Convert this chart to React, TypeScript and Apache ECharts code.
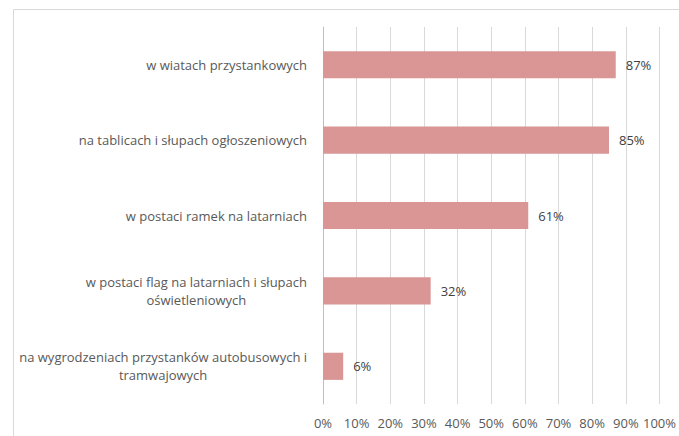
import React, { useEffect, useRef } from "react";
import * as echarts from "echarts";

const categories: string[] = [
  "w wiatach przystankowych",
  "na tablicach i słupach ogłoszeniowych",
  "w postaci ramek na latarniach",
  "w postaci flag na latarniach i słupach\noświetleniowych",
  "na wygrodzeniach przystanków autobusowych i\ntramwajowych",
];
const values: number[] = [87, 85, 61, 32, 6];
const xTicks: number[] = [0, 10, 20, 30, 40, 50, 60, 70, 80, 90, 100];

export default function App() {
  const ref = useRef<HTMLDivElement>(null);
  useEffect(() => {
    document.body.style.margin = "0";
    if (!ref.current) return;
    const chart = echarts.init(ref.current, null, { renderer: "svg" });
    const font = "'Open Sans', 'Noto Sans', sans-serif";
    chart.setOption({
      animation: false,
      backgroundColor: "#ffffff",
      graphic: [
        {
          type: "rect",
          shape: { x: 13.5, y: 9.5, width: 700, height: 440 },
          style: { fill: "none", stroke: "#d9d9d9", lineWidth: 1 },
          silent: true,
        },
      ],
      grid: { left: 323, right: 18, top: 27, bottom: 32, containLabel: false },
      xAxis: {
        type: "value",
        min: 0,
        max: 100,
        interval: 10,
        axisLine: { show: false },
        axisTick: { show: false },
        splitLine: { show: true, lineStyle: { color: "#d9d9d9", width: 1 } },
        axisLabel: {
          formatter: (v: number) => (xTicks.includes(v) ? v + "%" : ""),
          color: "#595959",
          fontFamily: font,
          fontSize: 13,
          margin: 12,
        },
      },
      yAxis: {
        type: "category",
        inverse: true,
        data: categories,
        axisLine: { show: true, lineStyle: { color: "#bfbfbf", width: 1 } },
        axisTick: { show: false },
        axisLabel: {
          color: "#595959",
          fontFamily: font,
          fontSize: 13,
          margin: 16,
          lineHeight: 18,
          formatter: (v: string) =>
            v
              .split("\n")
              .map((s) => "{c|" + s + "}")
              .join("\n"),
          rich: {
            c: {
              align: "center",
              color: "#595959",
              fontFamily: font,
              fontSize: 13,
              lineHeight: 18,
            },
          },
        },
      },
      series: [
        {
          type: "bar",
          data: values,
          barWidth: "36%",
          itemStyle: { color: "#d99694" },
          label: {
            show: true,
            position: "right",
            distance: 10,
            formatter: "{c}%",
            color: "#404040",
            fontFamily: font,
            fontSize: 13,
          },
        },
      ],
    });
    return () => chart.dispose();
  }, []);
  return <div ref={ref} style={{ width: 679, height: 436 }} />;
}
